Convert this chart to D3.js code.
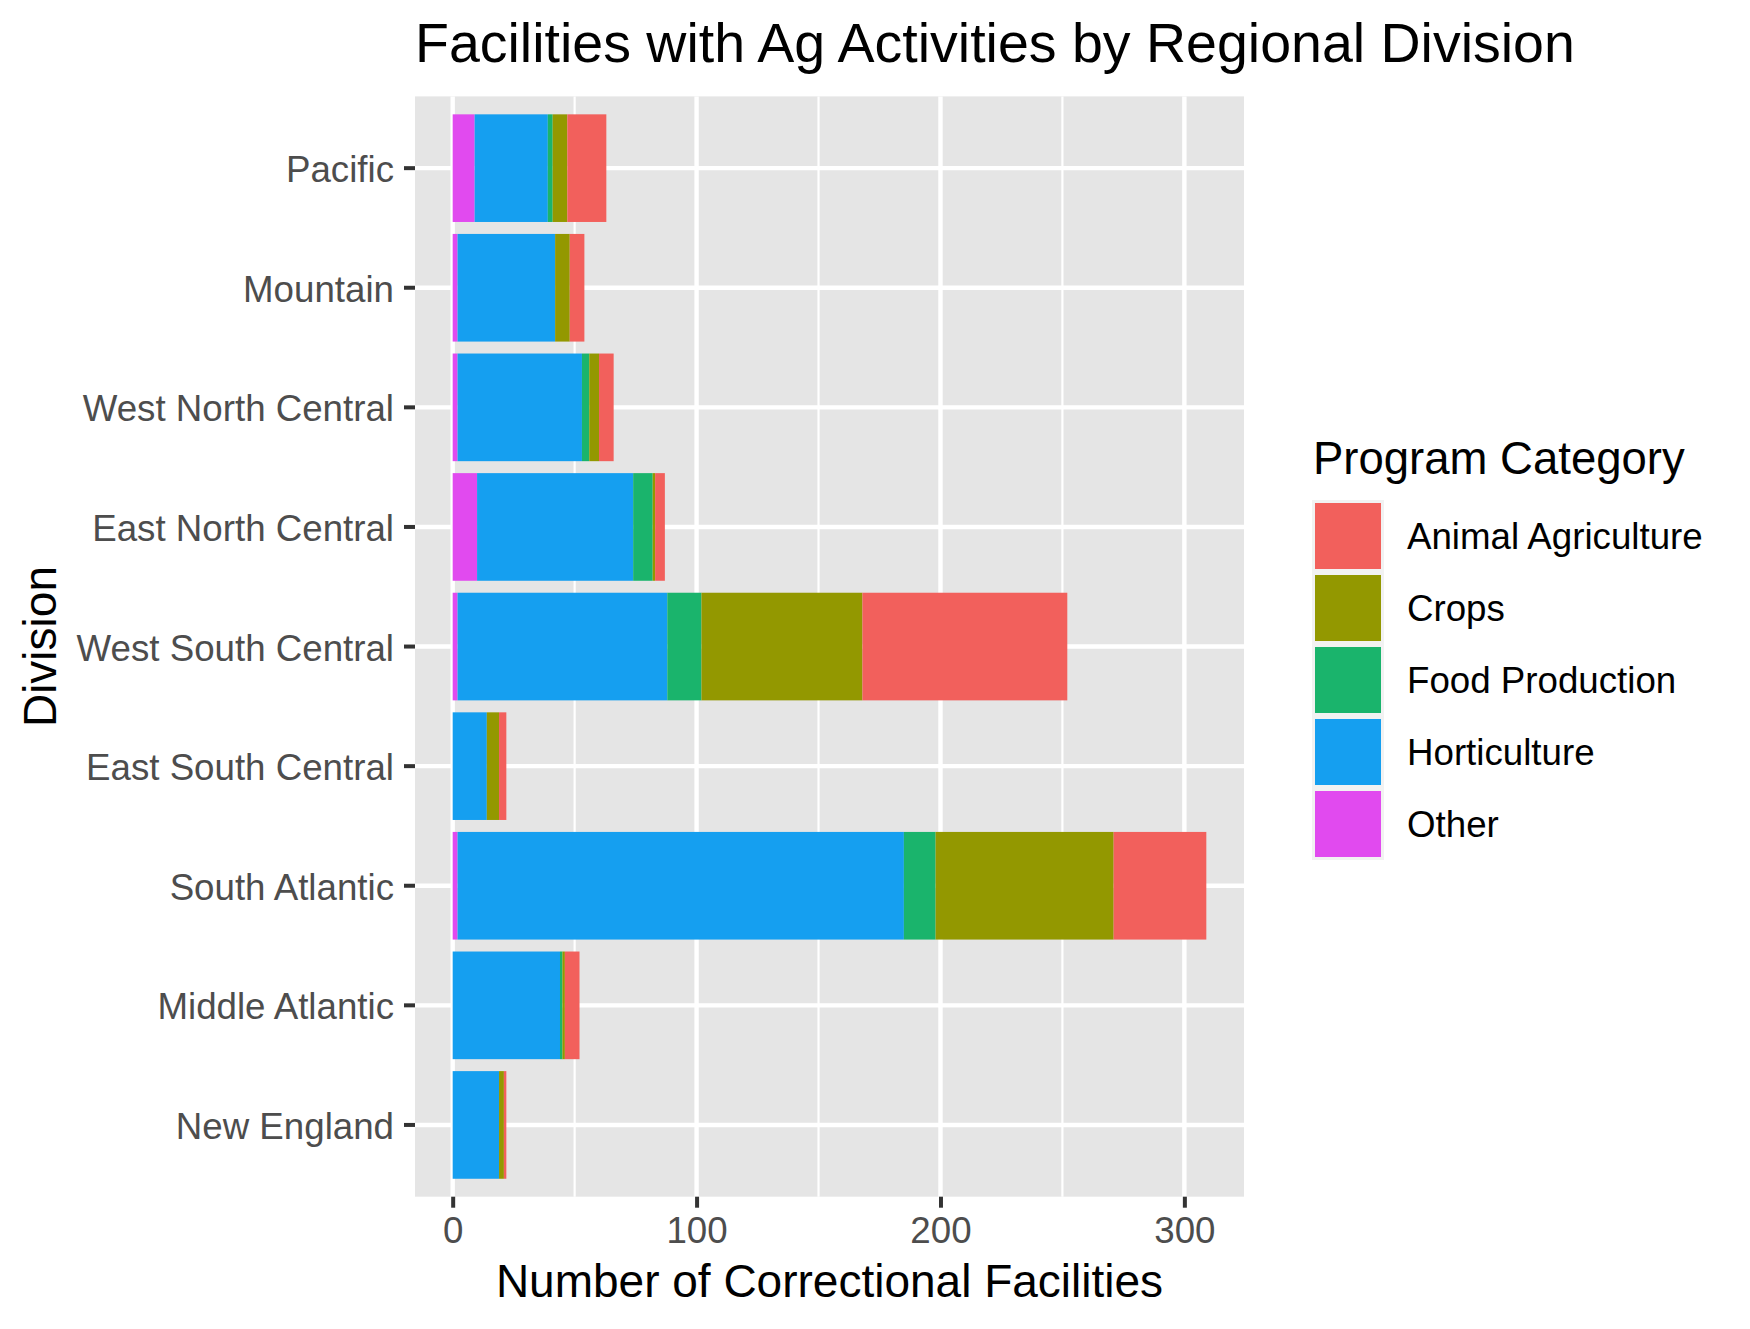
<!DOCTYPE html>
<html>
<head>
<meta charset="utf-8">
<script src="https://cdn.jsdelivr.net/npm/d3@7"></script>
<style>
  body { margin: 0; background: #fff; }
  text { font-family: "Liberation Sans", Arial, Helvetica, sans-serif; }
</style>
</head>
<body>
<div id="chart"></div>
<script>
// divisions, top to bottom as drawn
var divisions = ["Pacific", "Mountain", "West North Central", "East North Central",
  "West South Central", "East South Central", "South Atlantic", "Middle Atlantic", "New England"];

// legend order (ggplot factor order)
var categories = ["Animal Agriculture", "Crops", "Food Production", "Horticulture", "Other"];
var colors = ["#F2605C", "#939800", "#1AB46C", "#159FF0", "#E14AEF"];

// counts per division, same order as divisions
var animal  = [16,  6,  6,  4, 84, 3, 38,  6,  1];
var crops   = [ 6,  6,  4,  1, 66, 5, 73,  1,  2];
var food    = [ 2,  0,  3,  8, 14, 0, 13,  1,  0];
var hort    = [30, 40, 51, 64, 86, 14, 183, 44, 19];
var other   = [ 9,  2,  2, 10,  2, 0,  2,  0,  0];

var xTicks = [0, 100, 200, 300];
var xMinor = [50, 150, 250];

var W = 1750, H = 1329;
var panel = {left: 415, right: 1244, top: 96.4, bottom: 1196.7};

var svg = d3.select("#chart").append("svg").attr("width", W).attr("height", H);

var rows = divisions.map(function(d, i){
  return {division: d, "Animal Agriculture": animal[i], "Crops": crops[i],
    "Food Production": food[i], "Horticulture": hort[i], "Other": other[i]};
});

var maxTotal = d3.max(rows, function(r){ return d3.sum(categories, function(c){ return r[c]; }); });
var pad = maxTotal * 0.05;
var x = d3.scaleLinear().domain([-pad, maxTotal + pad]).range([panel.left, panel.right]);
var y = d3.scaleBand().domain(divisions).range([panel.top, panel.bottom])
  .paddingInner(0.1).paddingOuter(0.15);
var color = d3.scaleOrdinal().domain(categories).range(colors);

// panel background + grid
svg.append("rect")
  .attr("x", panel.left).attr("y", panel.top)
  .attr("width", panel.right - panel.left).attr("height", panel.bottom - panel.top)
  .style("fill", "#E5E5E5");

svg.selectAll("line.minor").data(xMinor).enter().append("line")
  .attr("x1", function(d){ return x(d); }).attr("x2", function(d){ return x(d); })
  .attr("y1", panel.top).attr("y2", panel.bottom)
  .style("stroke", "#fff").style("stroke-width", "2.2px");

svg.selectAll("line.majx").data(xTicks).enter().append("line")
  .attr("x1", function(d){ return x(d); }).attr("x2", function(d){ return x(d); })
  .attr("y1", panel.top).attr("y2", panel.bottom)
  .style("stroke", "#fff").style("stroke-width", "4.4px");

svg.selectAll("line.majy").data(divisions).enter().append("line")
  .attr("x1", panel.left).attr("x2", panel.right)
  .attr("y1", function(d){ return y(d) + y.bandwidth()/2; })
  .attr("y2", function(d){ return y(d) + y.bandwidth()/2; })
  .style("stroke", "#fff").style("stroke-width", "4.4px");

// stacked bars: Other at the left, Animal Agriculture at the right
var stack = d3.stack().keys(categories.slice().reverse());
var series = stack(rows);

svg.selectAll("g.series").data(series).enter().append("g")
  .style("fill", function(s){ return color(s.key); })
  .selectAll("rect").data(function(s){ return s; }).enter().append("rect")
  .attr("x", function(d){ return x(d[0]); })
  .attr("width", function(d){ return x(d[1]) - x(d[0]); })
  .attr("y", function(d){ return y(d.data.division); })
  .attr("height", y.bandwidth());

// axes (ggplot style)
var tickCol = "#333333", labCol = "#4D4D4D";

var xAxis = d3.axisBottom(x).tickValues(xTicks).tickSize(11).tickPadding(9);
var gx = svg.append("g").attr("transform", "translate(0," + panel.bottom + ")").call(xAxis);
gx.select(".domain").remove();
gx.selectAll("line").style("stroke", tickCol).style("stroke-width", "4px");
gx.selectAll("text").style("font-size", "36.7px").style("fill", labCol)
  .style("font-family", "Liberation Sans, Arial, sans-serif");

var yAxis = d3.axisLeft(y).tickSize(11).tickPadding(10);
var gy = svg.append("g").attr("transform", "translate(" + panel.left + ",0)").call(yAxis);
gy.select(".domain").remove();
gy.selectAll("line").style("stroke", tickCol).style("stroke-width", "4px");
gy.selectAll("text").attr("dy", "0.38em").style("font-size", "36.7px").style("fill", labCol)
  .style("font-family", "Liberation Sans, Arial, sans-serif");

// titles
svg.append("text").attr("x", panel.left).attr("y", 62)
  .style("font-size", "55.5px").style("fill", "#000")
  .text("Facilities with Ag Activities by Regional Division");

svg.append("text").attr("x", (panel.left + panel.right)/2).attr("y", 1297)
  .attr("text-anchor", "middle").style("font-size", "46px").style("fill", "#000")
  .text("Number of Correctional Facilities");

svg.append("text")
  .attr("transform", "translate(56," + ((panel.top + panel.bottom)/2) + ") rotate(-90)")
  .attr("text-anchor", "middle").style("font-size", "46px").style("fill", "#000")
  .text("Division");

// legend
var lg = svg.append("g").attr("transform", "translate(1312,500)");
lg.append("text").attr("x", 1).attr("y", -26)
  .style("font-size", "45.5px").style("fill", "#000").text("Program Category");

var keys = lg.selectAll("g.key").data(categories).enter().append("g")
  .attr("transform", function(d, i){ return "translate(0," + (i*72) + ")"; });
keys.append("rect").attr("width", 72).attr("height", 72).style("fill", "#F2F2F2");
keys.append("rect").attr("x", 3).attr("y", 3).attr("width", 66).attr("height", 66)
  .style("fill", function(d){ return color(d); });
keys.append("text").attr("x", 95).attr("y", 49)
  .style("font-size", "36.7px").style("fill", "#000")
  .text(function(d){ return d; });
</script>
</body>
</html>
